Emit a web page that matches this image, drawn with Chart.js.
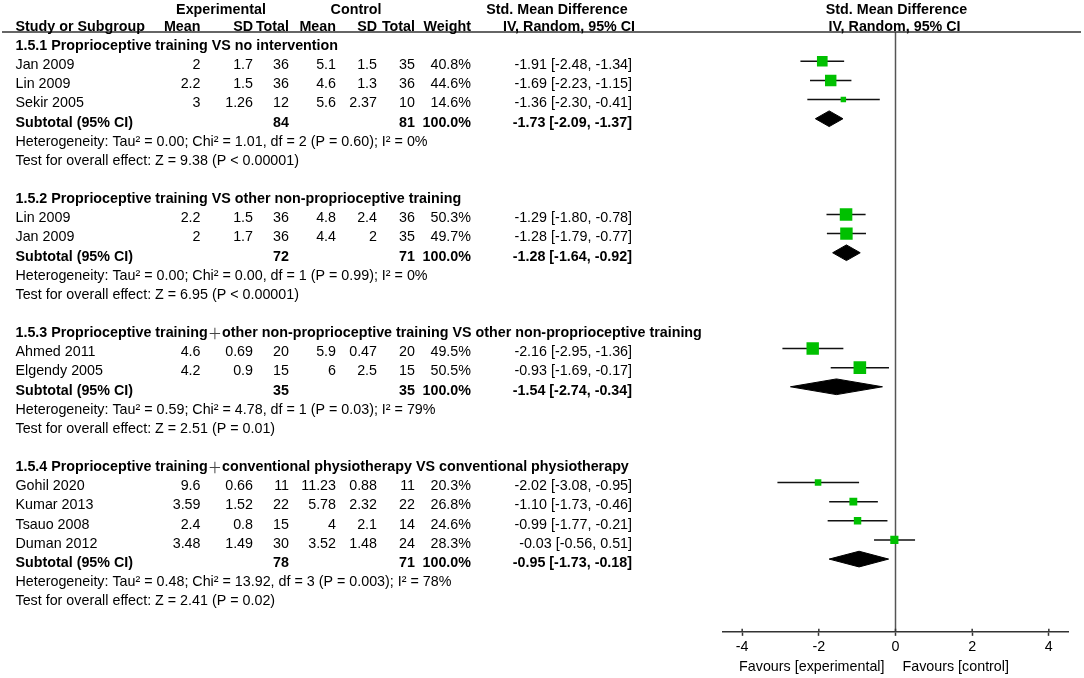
<!DOCTYPE html>
<html><head><meta charset="utf-8">
<script src="https://cdn.jsdelivr.net/npm/chart.js@4.4.1/dist/chart.umd.min.js"></script>
<style>html,body{margin:0;padding:0;background:#fff;}#wrap{width:1084px;height:678px;}</style>
</head><body><div id="wrap"><canvas id="c" width="1084" height="678"></canvas></div>
<script>
const groupTitles = [
  '1.5.1 Proprioceptive training VS no intervention',
  '1.5.2 Proprioceptive training VS other non-proprioceptive training',
  '1.5.3 Proprioceptive training\uFF0Bother non-proprioceptive training VS other non-proprioceptive training',
  '1.5.4 Proprioceptive training\uFF0Bconventional physiotherapy VS conventional physiotherapy'
];
const studyNames = ['Jan 2009','Lin 2009','Sekir 2005','Lin 2009','Jan 2009','Ahmed 2011','Elgendy 2005','Gohil 2020','Kumar 2013','Tsauo 2008','Duman 2012'];
const studyGroup = [0,0,0,1,1,2,2,3,3,3,3];
const expMean = [2,2.2,3,2.2,2,4.6,4.2,9.6,3.59,2.4,3.48];
const expSD   = [1.7,1.5,1.26,1.5,1.7,0.69,0.9,0.66,1.52,0.8,1.49];
const expN    = [36,36,12,36,36,20,15,11,22,15,30];
const ctlMean = [5.1,4.6,5.6,4.8,4.4,5.9,6,11.23,5.78,4,3.52];
const ctlSD   = [1.5,1.3,2.37,2.4,2,0.47,2.5,0.88,2.32,2.1,1.48];
const ctlN    = [35,36,10,36,35,20,15,11,22,14,24];
const weights = [40.8,44.6,14.6,50.3,49.7,49.5,50.5,20.3,26.8,24.6,28.3];
const smd     = [-1.91,-1.69,-1.36,-1.29,-1.28,-2.16,-0.93,-2.02,-1.10,-0.99,-0.03];
const ciLow   = [-2.48,-2.23,-2.30,-1.80,-1.79,-2.95,-1.69,-3.08,-1.73,-1.77,-0.56];
const ciHigh  = [-1.34,-1.15,-0.41,-0.78,-0.77,-1.36,-0.17,-0.95,-0.46,-0.21,0.51];
const subExpN = [84,72,35,78];
const subCtlN = [81,71,35,71];
const subSmd  = [-1.73,-1.28,-1.54,-0.95];
const subLow  = [-2.09,-1.64,-2.74,-1.73];
const subHigh = [-1.37,-0.92,-0.34,-0.18];
const hetText = [
  'Heterogeneity: Tau\u00B2 = 0.00; Chi\u00B2 = 1.01, df = 2 (P = 0.60); I\u00B2 = 0%',
  'Heterogeneity: Tau\u00B2 = 0.00; Chi\u00B2 = 0.00, df = 1 (P = 0.99); I\u00B2 = 0%',
  'Heterogeneity: Tau\u00B2 = 0.59; Chi\u00B2 = 4.78, df = 1 (P = 0.03); I\u00B2 = 79%',
  'Heterogeneity: Tau\u00B2 = 0.48; Chi\u00B2 = 13.92, df = 3 (P = 0.003); I\u00B2 = 78%'
];
const testText = [
  'Test for overall effect: Z = 9.38 (P < 0.00001)',
  'Test for overall effect: Z = 6.95 (P < 0.00001)',
  'Test for overall effect: Z = 2.51 (P = 0.01)',
  'Test for overall effect: Z = 2.41 (P = 0.02)'
];
const xTicks = [-4,-2,0,2,4];

// ---- row layout (row index units) ----
const titleRow = [], studyRow = [], subRow = [], hetRow = [], testRow = [];
let r = 0;
for (let g = 0; g < groupTitles.length; g++) {
  titleRow[g] = r++;
  studyNames.forEach((_, i) => { if (studyGroup[i] === g) studyRow[i] = r++; });
  subRow[g] = r++; hetRow[g] = r++; testRow[g] = r++; r++;
}
const Y_MIN = -0.73, Y_MAX = 30.6;
const MARK_DY = -0.2;
const DIA_H = 0.41;
const FONT = '"Liberation Sans", Arial, sans-serif';
const FS = 14.3;
Chart.defaults.font.family = FONT;

const datasets = [];
datasets.push({
  label: 'studies', order: 0,
  data: smd.map((v, i) => ({x: v, y: studyRow[i] + MARK_DY})),
  pointStyle: 'rect',
  pointRadius: weights.map(w => (2.5 + 0.2 * w) / Math.SQRT2),
  pointHoverRadius: weights.map(w => (2.5 + 0.2 * w) / Math.SQRT2),
  backgroundColor: '#00c000', borderWidth: 0, showLine: false
});
smd.forEach((v, i) => {
  const yy = studyRow[i] + MARK_DY;
  datasets.push({label: 'ci' + i, order: 1, showLine: true, pointRadius: 0,
    borderColor: '#111', borderWidth: 1.5,
    data: [{x: ciLow[i], y: yy}, {x: ciHigh[i], y: yy}]});
});
subSmd.forEach((v, g) => {
  const yy = subRow[g] + MARK_DY;
  datasets.push({label: 'dia' + g, order: 1, showLine: true, pointRadius: 0,
    borderColor: '#000', borderWidth: 1, backgroundColor: '#000', fill: 'shape', tension: 0,
    data: [{x: subLow[g], y: yy}, {x: v, y: yy - DIA_H}, {x: subHigh[g], y: yy}, {x: v, y: yy + DIA_H}, {x: subLow[g], y: yy}]});
});
datasets.push({label: 'zero', order: 3, showLine: true, pointRadius: 0,
  borderColor: '#555', borderWidth: 1.5,
  data: [{x: 0, y: Y_MIN}, {x: 0, y: Y_MAX}]});

const tablePlugin = {
  id: 'table',
  afterDraw(chart) {
    const ctx = chart.ctx, ys = chart.scales.y, xs = chart.scales.x, ca = chart.chartArea;
    const Y = v => ys.getPixelForValue(v);
    const put = (t, px, row, align, bold) => {
      ctx.font = (bold ? 'bold ' : '') + FS + 'px ' + FONT;
      ctx.textAlign = align; ctx.fillText(t, px, Y(row));
    };
    const putTitle = (t, px, row) => {
      const parts = t.split('\uFF0B');
      let x = px; const yy = Y(row);
      ctx.textAlign = 'left';
      parts.forEach((p, k) => {
        if (k > 0) {
          ctx.font = FS + 'px "Noto Sans CJK SC", "DejaVu Sans", sans-serif';
          ctx.fillStyle = '#444';
          ctx.fillText('\uFF0B', x, yy);
          x += ctx.measureText('\uFF0B').width;
          ctx.fillStyle = '#000';
        }
        ctx.font = 'bold ' + FS + 'px ' + FONT;
        ctx.fillText(p, x, yy);
        x += ctx.measureText(p).width;
      });
    };
    ctx.save();
    ctx.fillStyle = '#000'; ctx.textBaseline = 'middle';
    // header line
    ctx.strokeStyle = '#333'; ctx.lineWidth = 1.5;
    ctx.beginPath(); ctx.moveTo(2, ca.top); ctx.lineTo(1081, ca.top); ctx.stroke();
    // upper halves of axis tick marks
    ctx.beginPath();
    xs.ticks.forEach(t => { const px = xs.getPixelForValue(t.value); ctx.moveTo(px, ca.bottom - 3); ctx.lineTo(px, ca.bottom); });
    ctx.stroke();
    const H1 = -1.86, H2 = -1.0;
    const cx = {name: 15.5, em: 200.5, es: 253, en: 289, cm: 336, cs: 377, cn: 415, w: 471, ci: 632};
    put('Experimental', 221, H1, 'center', true);
    put('Control', 356, H1, 'center', true);
    put('Std. Mean Difference', 557, H1, 'center', true);
    put('Std. Mean Difference', (ca.left + ca.right) / 2 + 1, H1, 'center', true);
    put('Study or Subgroup', cx.name, H2, 'left', true);
    put('Mean', cx.em, H2, 'right', true);
    put('SD', cx.es, H2, 'right', true);
    put('Total', cx.en, H2, 'right', true);
    put('Mean', cx.cm, H2, 'right', true);
    put('SD', cx.cs, H2, 'right', true);
    put('Total', cx.cn, H2, 'right', true);
    put('Weight', cx.w, H2, 'right', true);
    put('IV, Random, 95% CI', 569, H2, 'center', true);
    put('IV, Random, 95% CI', (ca.left + ca.right) / 2 - 1, H2, 'center', true);
    const ci = (e, l, h) => e.toFixed(2) + ' [' + l.toFixed(2) + ', ' + h.toFixed(2) + ']';
    for (let g = 0; g < groupTitles.length; g++) {
      putTitle(groupTitles[g], cx.name, titleRow[g]);
      studyNames.forEach((n, i) => {
        if (studyGroup[i] !== g) return;
        const rr = studyRow[i];
        put(n, cx.name, rr, 'left', false);
        put(String(expMean[i]), cx.em, rr, 'right', false);
        put(String(expSD[i]), cx.es, rr, 'right', false);
        put(String(expN[i]), cx.en, rr, 'right', false);
        put(String(ctlMean[i]), cx.cm, rr, 'right', false);
        put(String(ctlSD[i]), cx.cs, rr, 'right', false);
        put(String(ctlN[i]), cx.cn, rr, 'right', false);
        put(weights[i].toFixed(1) + '%', cx.w, rr, 'right', false);
        put(ci(smd[i], ciLow[i], ciHigh[i]), cx.ci, rr, 'right', false);
      });
      put('Subtotal (95% CI)', cx.name, subRow[g], 'left', true);
      put(String(subExpN[g]), cx.en, subRow[g], 'right', true);
      put(String(subCtlN[g]), cx.cn, subRow[g], 'right', true);
      put('100.0%', cx.w, subRow[g], 'right', true);
      put(ci(subSmd[g], subLow[g], subHigh[g]), cx.ci, subRow[g], 'right', true);
      put(hetText[g], cx.name, hetRow[g], 'left', false);
      put(testText[g], cx.name, testRow[g], 'left', false);
    }
    // favours labels
    const x0 = xs.getPixelForValue(0);
    ctx.font = FS + 'px ' + FONT;
    ctx.textAlign = 'right'; ctx.fillText('Favours [experimental]', x0 - 11, 667);
    ctx.textAlign = 'left'; ctx.fillText('Favours [control]', x0 + 7, 667);
    ctx.restore();
  }
};

new Chart(document.getElementById('c'), {
  type: 'scatter',
  data: {datasets},
  options: {
    responsive: false, animation: false, devicePixelRatio: 1,
    layout: {padding: {left: 723, right: 16, top: 32, bottom: 19}},
    plugins: {legend: {display: false}, tooltip: {enabled: false}},
    scales: {
      x: {type: 'linear', min: -4.5, max: 4.5,
        afterBuildTicks: s => { s.ticks = xTicks.map(v => ({value: v})); },
        ticks: {font: {size: FS}, color: '#000', padding: 3, autoSkip: false, maxRotation: 0},
        grid: {display: true, drawOnChartArea: false, drawTicks: true, tickLength: 4, tickColor: '#333', tickWidth: 1.5},
        border: {display: true, color: '#333', width: 1.5}},
      y: {type: 'linear', display: false, min: Y_MIN, max: Y_MAX, reverse: true}
    }
  },
  plugins: [tablePlugin]
});
</script></body></html>
